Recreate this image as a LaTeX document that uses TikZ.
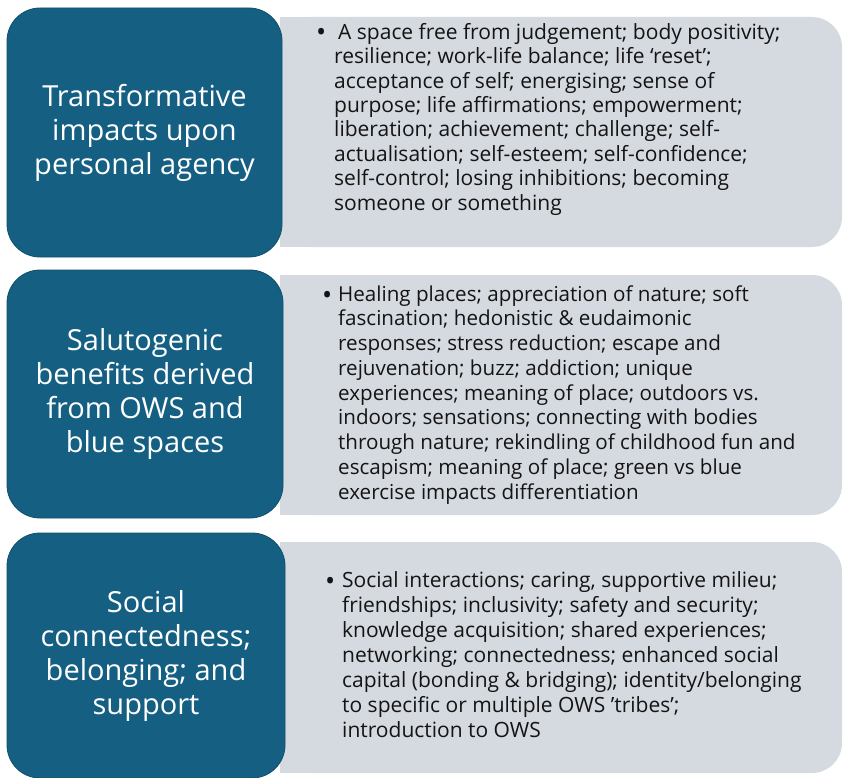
\documentclass[tikz,border=0pt]{standalone}
\usepackage{fontspec}
\setmainfont{Open Sans}
\definecolor{themeblue}{RGB}{21,96,130}
\definecolor{themeblueedge}{RGB}{16,78,106}
\definecolor{panelgrey}{RGB}{213,217,224}
\definecolor{bodytext}{RGB}{20,20,20}
\begin{document}
\begin{tikzpicture}[x=1pt,y=-1pt,
  headbox/.style={fill=themeblue, draw=themeblueedge, line width=0.8pt,
    rounded corners=33pt, text=white, align=center, inner sep=0pt,
    font=\fontsize{29}{34}\selectfont},
  panel/.style={fill=panelgrey, draw=none, rounded corners=30pt, inner sep=0pt},
  bulletmark/.style={anchor=base west, inner sep=0pt, text=bodytext,
    font=\fontsize{27}{27}\selectfont},
  itemtext/.style={anchor=base west, inner sep=0pt, align=left, text=bodytext}
]
\useasboundingbox (0,0) rectangle (845,778);

% ---- grey panels: rounded on the right, square on the left ----
\node[panel, minimum width=562pt, minimum height=230pt] (p1) at (561,132) {};
\fill[panelgrey] (p1.north west) rectangle (p1.south);
\node[panel, minimum width=562pt, minimum height=240pt] (p2) at (561,395) {};
\fill[panelgrey] (p2.north west) rectangle (p2.south);
\node[panel, minimum width=562pt, minimum height=231pt] (p3) at (561,657.5) {};
\fill[panelgrey] (p3.north west) rectangle (p3.south);

% ---- theme headings ----
\node[headbox, minimum width=275pt, minimum height=249pt] (h1) at (144.5,132.5)
  {Transformative\\impacts upon\\personal agency};
\node[headbox, minimum width=276pt, minimum height=248pt] (h2) at (145,394)
  {Salutogenic\\benefits derived\\from OWS and\\blue spaces};
\node[headbox, minimum width=278pt, minimum height=245pt] (h3) at (146,655.5)
  {Social\\connectedness;\\belonging; and\\support};

% ---- bullet lists (nodes are anchored at the last line's baseline) ----
\node[bulletmark] (b1) at (316,42) {•};
\node[itemtext, font=\fontsize{21}{24.4}\selectfont] (t1) at (334,210)
  {\hspace{4pt}A space free from judgement; body positivity;\\
   resilience; work-life balance; life ‘reset’;\\
   acceptance of self; energising; sense of\\
   purpose; life affirmations; empowerment;\\
   liberation; achievement; challenge; self-\\
   actualisation; self-esteem; self-confidence;\\
   self-control; losing inhibitions; becoming\\
   someone or something};

\node[bulletmark] (b2) at (322,304) {•};
\node[itemtext, font=\fontsize{20.6}{24.75}\selectfont] (t2) at (338,499)
  {Healing places; appreciation of nature; soft\\
   fascination; hedonistic \& eudaimonic\\
   responses; stress reduction; escape and\\
   rejuvenation; buzz; addiction; unique\\
   experiences; meaning of place; outdoors vs.\\
   indoors; sensations; connecting with bodies\\
   through nature; rekindling of childhood fun and\\
   escapism; meaning of place; green vs blue\\
   exercise impacts differentiation};

\node[bulletmark] (b3) at (325,590) {•};
\node[itemtext, font=\fontsize{21}{25}\selectfont] (t3) at (342,737)
  {Social interactions; caring, supportive milieu;\\
   friendships; inclusivity; safety and security;\\
   knowledge acquisition; shared experiences;\\
   networking; connectedness; enhanced social\\
   capital (bonding \& bridging); identity/belonging\\
   to specific or multiple OWS \symbol{"0027}tribes\symbol{"0027};\\
   introduction to OWS};
\end{tikzpicture}
\end{document}
